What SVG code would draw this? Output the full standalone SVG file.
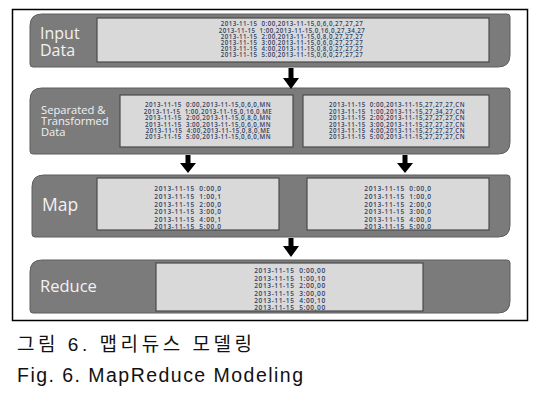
<svg xmlns="http://www.w3.org/2000/svg" width="540" height="408" viewBox="0 0 540 408">
<style>
.band{fill:#7b7b7b;stroke:#5e5e5e;stroke-width:1}
.box{fill:#d9d9d9;stroke:#4a4a4a;stroke-width:1.2}
.lbl{font-family:"Open Sans","Noto Sans",sans-serif;fill:#f2f2f2}
.dat{font-family:"Open Sans","Noto Sans",sans-serif;font-weight:600;fill:#34415f;text-anchor:middle;white-space:pre}
.s1{font-size:6.2px;letter-spacing:0.45px}
.s2{font-size:6.6px;letter-spacing:0.6px}
.arr{fill:#000}
.cap{font-family:"Liberation Sans","Noto Sans CJK KR",sans-serif;fill:#111}
</style>
<rect x="0" y="0" width="540" height="408" fill="#fff"/>
<rect x="12.5" y="9.5" width="515" height="311" fill="none" stroke="#000" stroke-width="1.5"/>

<g id="input-data">
<path class="band" d="M30,26 Q30,14 42,14 L507,14 Q510,14 510,17 L510,55 Q510,67 498,67 L33,67 Q30,67 30,64 Z"/>
<rect class="box" x="97" y="18" width="392" height="44"/>
<text class="lbl" x="40" y="39" font-size="16">Input</text>
<text class="lbl" x="40" y="56" font-size="16">Data</text>
<text class="dat s1" x="292" y="26.3">2013-11-15  0:00,2013-11-15,0,6,0,27,27,27</text>
<text class="dat s1" x="292" y="32.5">2013-11-15  1:00,2013-11-15,0,16,0,27,34,27</text>
<text class="dat s1" x="292" y="38.7">2013-11-15  2:00,2013-11-15,0,8,0,27,27,27</text>
<text class="dat s1" x="292" y="44.9">2013-11-15  3:00,2013-11-15,0,6,0,27,27,27</text>
<text class="dat s1" x="292" y="51.1">2013-11-15  4:00,2013-11-15,0,8,0,27,27,27</text>
<text class="dat s1" x="292" y="57.3">2013-11-15  5:00,2013-11-15,0,6,0,27,27,27</text>
</g>

<g id="separated">
<path class="band" d="M30,100 Q30,88 42,88 L507,88 Q510,88 510,91 L510,142 Q510,154 498,154 L33,154 Q30,154 30,151 Z"/>
<rect class="box" x="120" y="95" width="173" height="52"/>
<rect class="box" x="303" y="95" width="186" height="52"/>
<text class="lbl" x="41" y="114" font-size="11.2">Separated &amp;</text>
<text class="lbl" x="41" y="125" font-size="11.2">Transformed</text>
<text class="lbl" x="41" y="136" font-size="11.2">Data</text>
<text class="dat s1" x="208" y="107.3">2013-11-15  0:00,2013-11-15,0,6,0,MN</text>
<text class="dat s1" x="208" y="113.7">2013-11-15  1:00,2013-11-15,0,16,0,ME</text>
<text class="dat s1" x="208" y="120.1">2013-11-15  2:00,2013-11-15,0,8,0,MN</text>
<text class="dat s1" x="208" y="126.5">2013-11-15  3:00,2013-11-15,0,6,0,MN</text>
<text class="dat s1" x="208" y="132.9">2013-11-15  4:00,2013-11-15,0,8,0,ME</text>
<text class="dat s1" x="208" y="139.3">2013-11-15  5:00,2013-11-15,0,6,0,MN</text>
<text class="dat s1" x="397" y="107.3">2013-11-15  0:00,2013-11-15,27,27,27,CN</text>
<text class="dat s1" x="397" y="113.7">2013-11-15  1:00,2013-11-15,27,34,27,CN</text>
<text class="dat s1" x="397" y="120.1">2013-11-15  2:00,2013-11-15,27,27,27,CN</text>
<text class="dat s1" x="397" y="126.5">2013-11-15  3:00,2013-11-15,27,27,27,CN</text>
<text class="dat s1" x="397" y="132.9">2013-11-15  4:00,2013-11-15,27,27,27,CN</text>
<text class="dat s1" x="397" y="139.3">2013-11-15  5:00,2013-11-15,27,27,27,CN</text>
</g>

<g id="map">
<path class="band" d="M32,187 Q32,175 44,175 L507,175 Q510,175 510,178 L510,225 Q510,237 498,237 L35,237 Q32,237 32,234 Z"/>
<rect class="box" x="97" y="178" width="182" height="52"/>
<rect class="box" x="307" y="178" width="182" height="52"/>
<text class="lbl" x="42" y="211" font-size="17.5">Map</text>
<text class="dat s2" x="188" y="191.3">2013-11-15  0:00,0</text>
<text class="dat s2" x="188" y="198.9">2013-11-15  1:00,1</text>
<text class="dat s2" x="188" y="206.5">2013-11-15  2:00,0</text>
<text class="dat s2" x="188" y="214.1">2013-11-15  3:00,0</text>
<text class="dat s2" x="188" y="221.7">2013-11-15  4:00,1</text>
<text class="dat s2" x="188" y="229.3">2013-11-15  5:00,0</text>
<text class="dat s2" x="398" y="191.3">2013-11-15  0:00,0</text>
<text class="dat s2" x="398" y="198.9">2013-11-15  1:00,0</text>
<text class="dat s2" x="398" y="206.5">2013-11-15  2:00,0</text>
<text class="dat s2" x="398" y="214.1">2013-11-15  3:00,0</text>
<text class="dat s2" x="398" y="221.7">2013-11-15  4:00,0</text>
<text class="dat s2" x="398" y="229.3">2013-11-15  5:00,0</text>
</g>

<g id="reduce">
<path class="band" d="M30,272 Q30,260 42,260 L507,260 Q510,260 510,263 L510,301 Q510,313 498,313 L33,313 Q30,313 30,310 Z"/>
<rect class="box" x="156" y="263" width="267" height="48"/>
<text class="lbl" x="40" y="292" font-size="16.5">Reduce</text>
<text class="dat s2" x="290" y="273.3">2013-11-15  0:00,00</text>
<text class="dat s2" x="290" y="280.7">2013-11-15  1:00,10</text>
<text class="dat s2" x="290" y="288.1">2013-11-15  2:00,00</text>
<text class="dat s2" x="290" y="295.5">2013-11-15  3:00,00</text>
<text class="dat s2" x="290" y="302.9">2013-11-15  4:00,10</text>
<text class="dat s2" x="290" y="310.3">2013-11-15  5:00,00</text>
</g>

<g id="connectors">
<path class="arr" d="M288.5,68 L293.5,68 L293.5,78 L299,78 L291,89 L283,78 L288.5,78 Z"/>
<path class="arr" d="M185.5,155 L190.5,155 L190.5,163 L196,163 L188,173 L180,163 L185.5,163 Z"/>
<path class="arr" d="M402.5,155 L407.5,155 L407.5,163 L413,163 L405,173 L397,163 L402.5,163 Z"/>
<path class="arr" d="M288.5,238 L293.5,238 L293.5,246 L299,246 L291,257 L283,246 L288.5,246 Z"/>
</g>

<text class="cap" x="17" y="351" font-size="19" textLength="235" lengthAdjust="spacing">그림 6. 맵리듀스 모델링</text>
<text class="cap" x="17" y="382" font-size="19.5" textLength="286" lengthAdjust="spacing">Fig. 6. MapReduce Modeling</text>
</svg>
